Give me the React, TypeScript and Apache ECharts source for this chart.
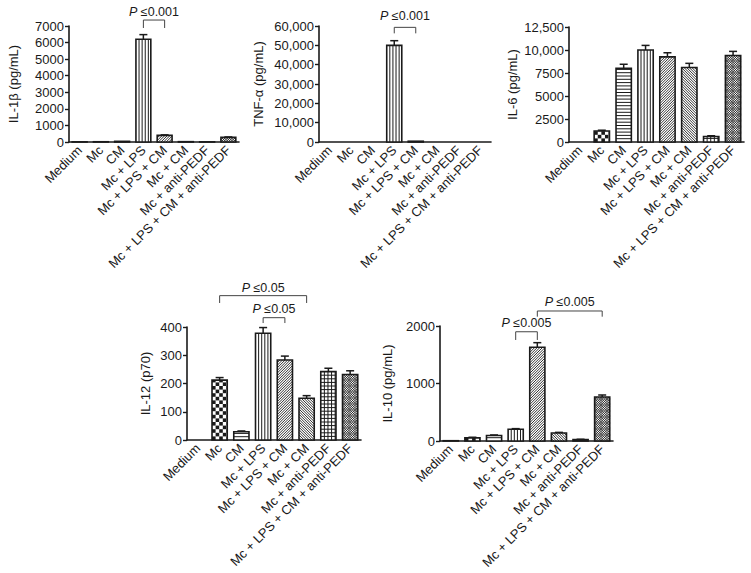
import React, { useEffect, useRef } from 'react';
import * as echarts from 'echarts';

const categories = [
  'Medium',
  'Mc',
  'CM',
  'Mc + LPS',
  'Mc + LPS + CM',
  'Mc + CM',
  'Mc + anti-PEDF',
  'Mc + LPS + CM + anti-PEDF',
];
const patterns = ['blank', 'checker', 'hlines', 'vlines', 'fdiag', 'bdiag', 'grid', 'crosshatch'];

// values (means) and error (SEM, upward only)
const il1bValues = [10, 15, 40, 6200, 400, 20, 10, 280];
const il1bErrors = [0, 0, 0, 280, 30, 0, 0, 25];
const tnfValues = [0, 0, 0, 50000, 400, 0, 0, 0];
const tnfErrors = [0, 0, 0, 2400, 0, 0, 0, 0];
const il6Values = [0, 1200, 8000, 10000, 9250, 8100, 600, 9400];
const il6Errors = [0, 80, 450, 500, 450, 450, 80, 450];
const il12Values = [0, 212, 29, 378, 283, 148, 242, 232];
const il12Errors = [0, 9, 3, 20, 14, 9, 12, 13];
const il10Values = [5, 55, 95, 205, 1630, 140, 25, 765];
const il10Errors = [0, 10, 10, 10, 80, 10, 5, 35];

// brackets: [fromIndex, toIndex, topValue, dropValue, textValue]
const il1bBrackets = [[3, 4, 7360, 6880, 7850]];
const il1bBracketTexts = ['0.001'];
const tnfBrackets = [[3, 4, 59300, 56200, 65200]];
const tnfBracketTexts = ['0.001'];
const il12Brackets = [
  [1, 5, 511, 485, 538],
  [3, 4, 433, 414, 464],
];
const il12BracketTexts = ['0.05', '0.05'];
const il10Brackets = [
  [3, 4, 1900, 1757, 2052],
  [4, 7, 2261, 2162, 2423],
];
const il10BracketTexts = ['0.005', '0.005'];

const FONT = '"Liberation Sans", Arial, Helvetica, sans-serif';
const INK = '#1a1a1a';

function patternElements(kind: string, x0: number, x1: number, y0: number, y1: number) {
  const els: any[] = [];
  const w = x1 - x0;
  const h = y1 - y0;
  if (h < 2 || w < 2) return els;
  const ln = (ax: number, ay: number, bx: number, by: number, lw = 1) =>
    els.push({
      type: 'line',
      shape: { x1: ax, y1: ay, x2: bx, y2: by },
      style: { stroke: INK, lineWidth: lw },
      silent: true,
    });
  if (kind === 'hlines' || kind === 'grid') {
    const s = kind === 'grid' ? 3.6 : 3.3;
    for (let y = y1 - s; y > y0 + 0.5; y -= s) ln(x0, y, x1, y, 1);
  }
  if (kind === 'vlines' || kind === 'grid') {
    const s = kind === 'grid' ? 3.6 : 3.1;
    for (let x = x0 + s; x < x1 - 0.5; x += s) ln(x, y0, x, y1, 1);
  }
  if (kind === 'fdiag' || kind === 'crosshatch') {
    const s = kind === 'crosshatch' ? 2.4 : 2.6;
    const lw = kind === 'crosshatch' ? 0.8 : 0.9;
    for (let c = x0 + y0 + s; c < x1 + y1; c += s) {
      const xa = Math.max(x0, c - y1);
      const xb = Math.min(x1, c - y0);
      if (xb > xa) ln(xa, c - xa, xb, c - xb, lw);
    }
  }
  if (kind === 'bdiag' || kind === 'crosshatch') {
    const s = kind === 'crosshatch' ? 2.4 : 2.6;
    const lw = kind === 'crosshatch' ? 0.8 : 0.9;
    for (let c = y0 - x1 + s; c < y1 - x0; c += s) {
      const xa = Math.max(x0, y0 - c);
      const xb = Math.min(x1, y1 - c);
      if (xb > xa) ln(xa, xa + c, xb, xb + c, lw);
    }
  }
  if (kind === 'checker') {
    const s = 3.6;
    let i = 0;
    for (let yb = y1; yb > y0; yb -= s, i++) {
      const yt = Math.max(y0, yb - s);
      let j = 0;
      for (let xl = x0; xl < x1; xl += s, j++) {
        const xr = Math.min(x1, xl + s);
        if ((i + j) % 2 === 0) {
          els.push({
            type: 'rect',
            shape: { x: xl, y: yt, width: xr - xl, height: yb - yt },
            style: { fill: INK },
            silent: true,
          });
        }
      }
    }
  }
  return els;
}

function renderBar(params: any, api: any) {
  const idx = api.value(0);
  const val = api.value(1);
  const err = api.value(2);
  const base = api.coord([idx, 0]);
  const top = api.coord([idx, val]);
  const bw = api.size([1, 0])[0] * 0.7;
  const cx = base[0];
  const x0 = cx - bw / 2;
  const x1 = cx + bw / 2;
  const y0 = top[1];
  const y1 = base[1];
  const children: any[] = [];
  if (err > 0) {
    const et = api.coord([idx, val + err])[1];
    children.push({
      type: 'line',
      shape: { x1: cx, y1: y0, x2: cx, y2: et },
      style: { stroke: INK, lineWidth: 1.5 },
    });
    children.push({
      type: 'line',
      shape: { x1: cx - 4, y1: et, x2: cx + 4, y2: et },
      style: { stroke: INK, lineWidth: 1.5 },
    });
  }
  if (val > 0) {
    children.push({
      type: 'rect',
      shape: { x: x0, y: y0, width: bw, height: y1 - y0 },
      style: { fill: '#fff' },
    });
    children.push(...patternElements(patterns[idx], x0, x1, y0, y1));
    children.push({
      type: 'rect',
      shape: { x: x0, y: y0, width: bw, height: y1 - y0 },
      style: { fill: 'none', stroke: INK, lineWidth: 1.6 },
    });
  }
  return { type: 'group', children };
}

function makeBracketRenderer(texts: string[]) {
  return (params: any, api: any) => {
    const a = api.value(0);
    const b = api.value(1);
    const topY = api.coord([a, api.value(2)])[1];
    const dropY = api.coord([a, api.value(3)])[1];
    const textY = api.coord([a, api.value(4)])[1];
    const xa = api.coord([a, 0])[0];
    const xb = api.coord([b, 0])[0];
    return {
      type: 'group',
      children: [
        {
          type: 'polyline',
          shape: { points: [[xa, dropY], [xa, topY], [xb, topY], [xb, dropY]] },
          style: { stroke: '#444', lineWidth: 1, fill: 'none' },
        },
        {
          type: 'text',
          x: (xa + xb) / 2,
          y: textY,
          style: {
            text: '{i|P} ≤' + texts[params.dataIndex],
            rich: { i: { fontStyle: 'italic', fontSize: 12.5, fontFamily: FONT, fill: INK } },
            fontSize: 12.5,
            fontFamily: FONT,
            fill: INK,
            align: 'center',
            verticalAlign: 'middle',
          },
        },
      ],
    };
  };
}

const panels = [
  { name: 'IL-1β (pg/mL)', values: il1bValues, errors: il1bErrors, max: 7000, interval: 1000, brackets: il1bBrackets, texts: il1bBracketTexts, left: 69, top: 26, width: 170, height: 116, nameGap: 49 },
  { name: 'TNF-α (pg/mL)', values: tnfValues, errors: tnfErrors, max: 60000, interval: 10000, brackets: tnfBrackets, texts: tnfBracketTexts, left: 319, top: 26, width: 172, height: 116, nameGap: 54 },
  { name: 'IL-6 (pg/mL)', values: il6Values, errors: il6Errors, max: 12500, interval: 2500, brackets: [], texts: [], left: 569, top: 27, width: 175, height: 115, nameGap: 50 },
  { name: 'IL-12 (p70)', values: il12Values, errors: il12Errors, max: 400, interval: 100, brackets: il12Brackets, texts: il12BracketTexts, left: 187, top: 327, width: 174, height: 113, nameGap: 35 },
  { name: 'IL-10 (pg/mL)', values: il10Values, errors: il10Errors, max: 2000, interval: 1000, brackets: il10Brackets, texts: il10BracketTexts, left: 440, top: 326, width: 173, height: 115, nameGap: 46 },
];

const fmt = (v: number) => (v >= 10000 ? v.toLocaleString('en-US') : String(v));

export default function App() {
  const ref = useRef<HTMLDivElement>(null);
  useEffect(() => {
    if (!ref.current) return;
    const chart = echarts.init(ref.current, undefined, { renderer: 'svg' });
    const grid: any[] = [];
    const xAxis: any[] = [];
    const yAxis: any[] = [];
    const series: any[] = [];
    panels.forEach((p, k) => {
      grid.push({ left: p.left, top: p.top, width: p.width, height: p.height, containLabel: false });
      xAxis.push({
        type: 'category',
        gridIndex: k,
        data: categories,
        boundaryGap: true,
        axisLine: { lineStyle: { color: INK, width: 1.6 } },
        axisTick: { alignWithLabel: true, length: 4, lineStyle: { color: INK, width: 1.4 } },
        axisLabel: { rotate: 45, interval: 0, fontSize: 13, color: INK, fontFamily: FONT, margin: 6 },
      });
      yAxis.push({
        type: 'value',
        gridIndex: k,
        min: 0,
        max: p.max,
        interval: p.interval,
        name: p.name,
        nameLocation: 'middle',
        nameGap: p.nameGap,
        nameRotate: 90,
        nameTextStyle: { fontSize: 13, color: INK, fontFamily: FONT },
        axisLine: { show: true, lineStyle: { color: INK, width: 1.6 } },
        axisTick: { show: true, length: 4, lineStyle: { color: INK, width: 1.4 } },
        axisLabel: { fontSize: 13, color: INK, fontFamily: FONT, margin: 5, formatter: fmt },
        splitLine: { show: false },
      });
      series.push({
        type: 'custom',
        xAxisIndex: k,
        yAxisIndex: k,
        renderItem: renderBar,
        clip: false,
        data: p.values.map((v, i) => [i, v, p.errors[i]]),
        encode: { x: 0, y: 1 },
        z: 2,
      });
      if (p.brackets.length) {
        series.push({
          type: 'custom',
          xAxisIndex: k,
          yAxisIndex: k,
          renderItem: makeBracketRenderer(p.texts),
          clip: false,
          data: p.brackets,
          encode: { x: [0, 1], y: [2] },
          z: 3,
        });
      }
    });
    chart.setOption({
      animation: false,
      backgroundColor: '#fff',
      textStyle: { fontFamily: FONT },
      grid,
      xAxis,
      yAxis,
      series,
    });
    return () => chart.dispose();
  }, []);
  return (
    <div
      ref={ref}
      style={{ position: 'absolute', left: 0, top: 0, width: 751, height: 573, background: '#fff' }}
    />
  );
}
